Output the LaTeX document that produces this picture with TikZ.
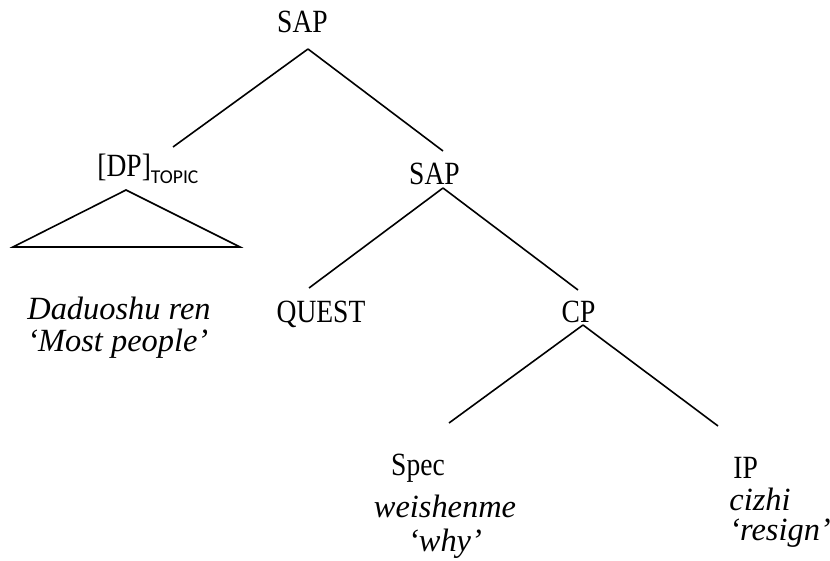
\documentclass[tikz,border=0pt]{standalone}
\usepackage{fontspec}
\setmainfont{Liberation Serif}
\newfontfamily\catfont{Liberation Serif}[FakeStretch=0.85]
\newfontfamily\subfont{Carlito}

\tikzset{
  cat/.style={inner sep=0pt, font=\catfont\fontsize{16.2}{19}\selectfont},
  gloss/.style={inner sep=0pt, font=\fontsize{16.2}{13.5}\selectfont\itshape},
  branch/.style={line width=0.8pt}
}

\begin{document}
\begin{tikzpicture}[x=0.5pt, y=-0.5pt]
  \useasboundingbox (0,0) rectangle (830,561);
  % categories
  \node (sap) [cat, anchor=base] at (302.5,33) {SAP};
  \node (topic) [cat, anchor=base west] at (97,177) {[DP]\raisebox{-3.5pt}{\subfont\fontsize{9.8}{11}\selectfont TOPIC}};
  \node (sap2) [cat, anchor=base] at (434.5,185) {SAP};
  \node (quest) [cat, anchor=base] at (321,322) {QUEST};
  \node (cp) [cat, anchor=base] at (578.5,322) {CP};
  \node (spec) [cat, anchor=base] at (418,475) {Spec};
  \node (ip) [cat, anchor=base west] at (733,478) {IP};
  % glosses (base = last line)
  \node (dadu) [gloss, align=left, anchor=base west] at (27,351) {Daduoshu ren\\[2.5pt] `Most people'};
  \node (why) [gloss, align=center, anchor=base] at (445,551) {weishenme\\[3.5pt] `why'};
  \node (resign) [gloss, align=left, anchor=base west] at (729,540) {cizhi\\[1.5pt] `resign'};
  % branches
  \draw [branch] ([shift={(5.5,16)}]sap.base) to ([shift={(76,-30)}]topic.base west);
  \draw [branch] ([shift={(5.5,16)}]sap.base) to ([shift={(8.5,-34)}]sap2.base);
  \draw [branch] ([shift={(8.5,3)}]sap2.base) to ([shift={(-12,-34)}]quest.base);
  \draw [branch] ([shift={(8.5,3)}]sap2.base) to ([shift={(-0.5,-32)}]cp.base);
  \draw [branch] ([shift={(4.5,3)}]cp.base) to ([shift={(31,-52)}]spec.base);
  \draw [branch] ([shift={(4.5,3)}]cp.base) to ([shift={(-15,-52)}]ip.base west);
  % triangle under the topic
  \draw [branch] ([shift={(29,13)}]topic.base west) -- ++(-113,57) -- ++(227,0) -- cycle;
\end{tikzpicture}
\end{document}
